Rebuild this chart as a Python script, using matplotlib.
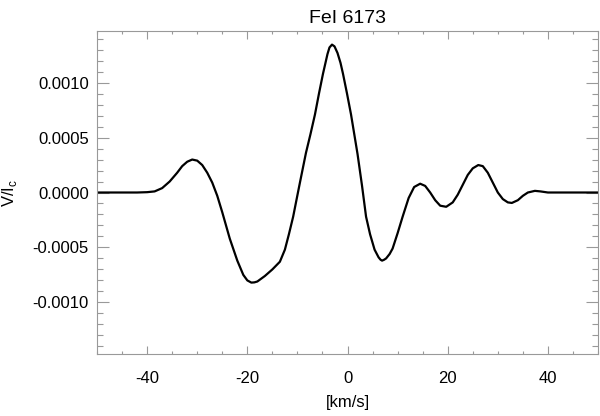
import matplotlib
matplotlib.use("Agg")
import matplotlib.pyplot as plt
from matplotlib.ticker import MultipleLocator, FormatStrFormatter

plt.rcParams['font.family'] = ['Liberation Sans', 'DejaVu Sans']

# Stokes V profile, velocity in km/s
vel = [-50, -42, -40, -38.5, -37, -35.5, -34, -33, -32, -31, -30, -29, -28,
       -27, -26, -25, -23.5, -22, -20.8, -20, -19.2, -18.6, -18, -16.5, -15,
       -13.5, -12.5, -11.7, -10.85, -10.2, -9.5, -8.3, -7.4, -6.5, -5.7,
       -4.9, -4, -3.6, -3.1, -2.6, -2, -1.4, -0.9, -0.1, 0.7, 1.35, 2, 2.9,
       3.7, 4.5, 5.4, 6.2, 6.6, 6.9, 7.3, 7.7, 8.4, 9, 10, 11, 12.2, 13.3,
       14.5, 15.5, 16.5, 17.5, 18.5, 19.7, 21, 22, 23, 24, 25, 26.1, 27, 28,
       29, 30, 31, 32, 32.8, 34, 35, 36, 37.4, 38.5, 40, 50]
stokes_v = [0, 0, 0.000003, 0.00001, 0.00004, 0.00010, 0.00018, 0.00024,
            0.00028, 0.00030, 0.00029, 0.00025, 0.00018, 0.00009, -0.00003,
            -0.00018, -0.00042, -0.00062, -0.00075, -0.00080, -0.00082,
            -0.000818, -0.00081, -0.00076, -0.00070, -0.00063, -0.00052,
            -0.00038, -0.00022, -0.00007, 0.00009, 0.00036, 0.00053, 0.00071,
            0.00090, 0.00108, 0.00126, 0.00132, 0.001346, 0.00133, 0.00127,
            0.00118, 0.00108, 0.00090, 0.00071, 0.00053, 0.00035, 0.00006,
            -0.00022, -0.00038, -0.00052, -0.00059, -0.000612, -0.00062,
            -0.000612, -0.00060, -0.00056, -0.00051, -0.00037, -0.00022,
            -0.00005, 0.00005, 0.00008, 0.00006, 0.0, -0.00007, -0.00012,
            -0.00013, -0.00009, -0.00002, 0.00007, 0.00016, 0.00022, 0.00025,
            0.00024, 0.00018, 0.00009, 0.0, -0.00006, -0.00009, -0.000095,
            -0.00007, -0.00003, 0.0, 0.000015, 0.00001, 0.0, 0.0]

fig = plt.figure(figsize=(6, 4.16), dpi=100)
ax = fig.add_axes([0.1617, 0.149, 0.835, 0.7765])

ax.plot(vel, stokes_v, color='black', lw=1.6)

ax.set_xlim(-50, 50)
ax.set_ylim(-0.00147, 0.00147)
ax.xaxis.set_major_locator(MultipleLocator(20))
ax.xaxis.set_minor_locator(MultipleLocator(5))
ax.yaxis.set_major_locator(MultipleLocator(0.0005))
ax.yaxis.set_minor_locator(MultipleLocator(0.0001))
ax.yaxis.set_major_formatter(FormatStrFormatter('%.4f'))
ax.xaxis.set_major_formatter(FormatStrFormatter('%d'))

grey = '#999999'
for s in ax.spines.values():
    s.set_color(grey)
    s.set_linewidth(0.8)
ax.tick_params(axis='both', which='both', direction='in', color=grey,
               top=True, right=True, labelsize=12, width=0.8)
ax.tick_params(axis='x', which='major', length=6, pad=12)
ax.tick_params(axis='x', which='minor', length=2.5)
ax.tick_params(axis='y', which='major', length=8.5, pad=6)
ax.tick_params(axis='y', which='minor', length=4)

ax.set_title('FeI 6173', fontsize=14, pad=6)
ax.set_xlabel('[km/s]', fontsize=12, labelpad=7)
ax.set_ylabel('V/I$_\\mathregular{c}$', fontsize=12, labelpad=10)

fig.savefig('out.png', dpi=100)
